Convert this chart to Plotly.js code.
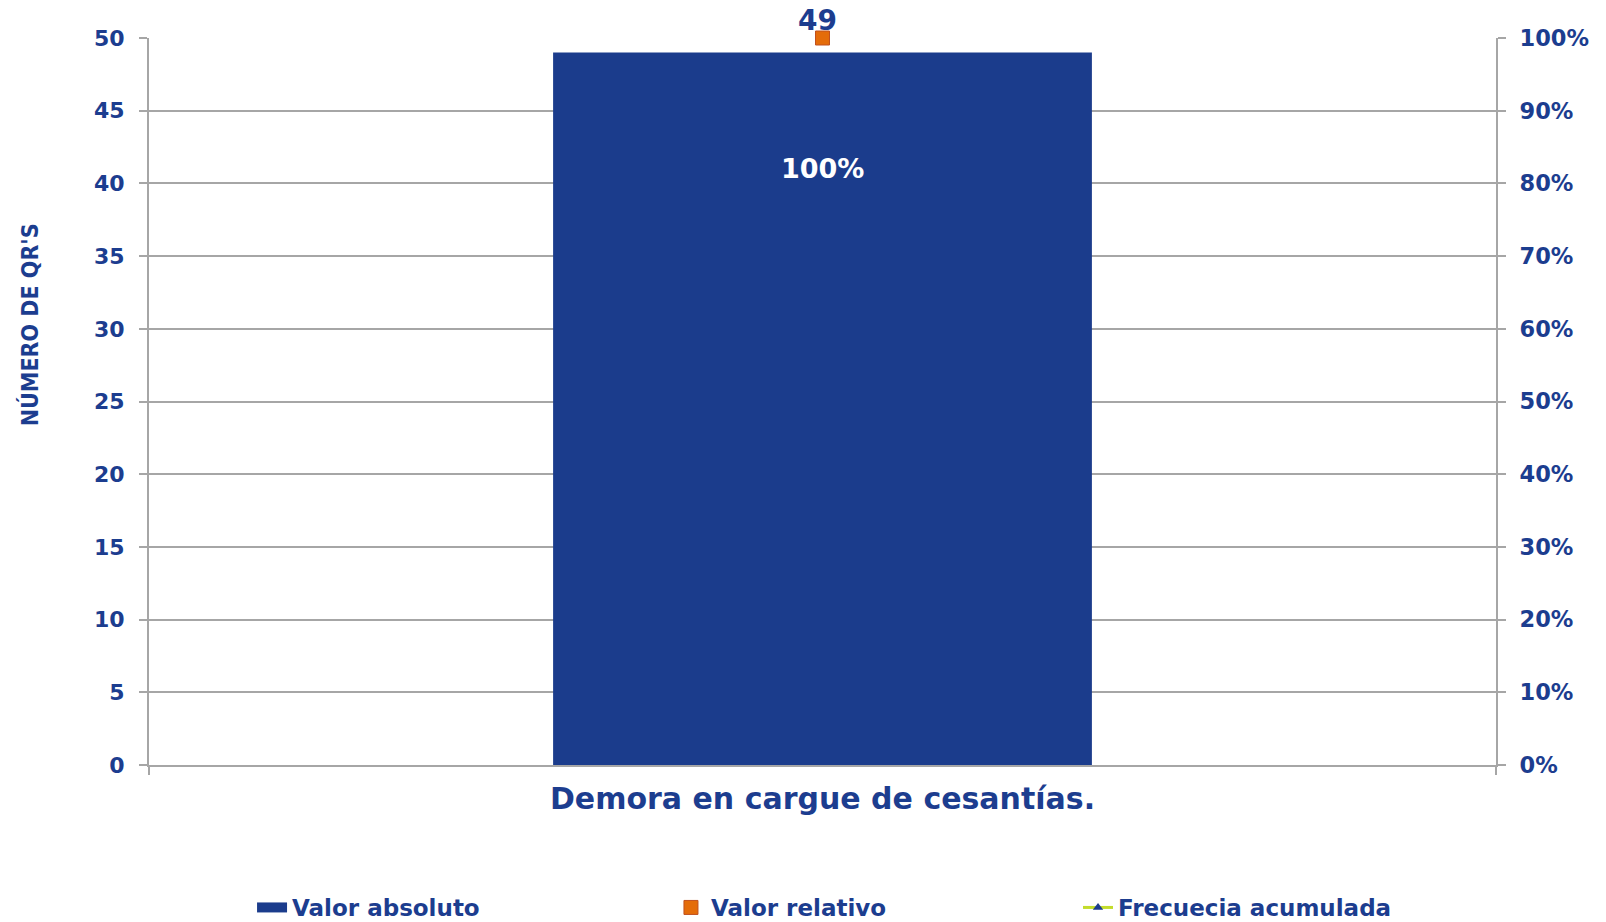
<!DOCTYPE html>
<html>
<head>
<meta charset="utf-8">
<script src="https://cdn.plot.ly/plotly-3.0.1.min.js"></script>
<style>
  html, body { margin: 0; padding: 0; background: #ffffff; }
  #chart { width: 1606px; height: 922px; }
</style>
</head>
<body>
<div id="chart"></div>
<script>
// ---- Data ----
const categories = ['Demora en cargue de cesantías.'];
const absoluteValues = [49];        // Valor absoluto (número de QR's)
const relativeValues = [1.0];       // Valor relativo
const cumulativeValues = [1.0];     // Frecuecia acumulada
const seriesNames = ['Valor absoluto', 'Valor relativo', 'Frecuecia acumulada'];
const yTitle = "NÚMERO DE QR'S";

// ---- Styles ----
const NAVY = '#1c3d8f';
const BAR = '#1b3c8c';
const ORANGE = '#e46c0a';
const LIME = '#c3dc2b';
const GRID = '#a6a6a6';
const FONT = 'DejaVu Sans, Verdana, sans-serif';

const traces = [
  {
    type: 'bar',
    x: categories,
    y: absoluteValues,
    name: seriesNames[0],
    marker: { color: BAR },
    showlegend: false,
    hoverinfo: 'x+y'
  },
  // legend swatch for the bar series (wide rectangle like the original)
  {
    type: 'scatter',
    mode: 'lines',
    x: [null],
    y: [null],
    name: seriesNames[0],
    line: { color: BAR, width: 11 },
    legend: 'legend',
    showlegend: true,
    hoverinfo: 'skip'
  },
  {
    type: 'scatter',
    mode: 'lines+markers',
    x: categories,
    y: cumulativeValues,
    yaxis: 'y2',
    name: seriesNames[2],
    line: { color: LIME, width: 3 },
    marker: { symbol: 'triangle-up', size: 9, color: NAVY },
    cliponaxis: false,
    legend: 'legend3'
  },
  {
    type: 'scatter',
    mode: 'markers',
    x: categories,
    y: relativeValues,
    yaxis: 'y2',
    name: seriesNames[1],
    marker: { symbol: 'square', size: 14, color: ORANGE, line: { color: '#c0501e', width: 1 } },
    cliponaxis: false,
    legend: 'legend2'
  }
];

const tickFont = { family: FONT, size: 22, color: NAVY, weight: 700 };
const tickFontRight = { family: FONT, size: 22.5, color: NAVY, weight: 700 };
const legendFont = { family: FONT, size: 23, color: NAVY, weight: 700 };

const annotations = [
  // absolute value label above the bar
  {
    x: categories[0], y: 50, xref: 'x', yref: 'y',
    text: String(absoluteValues[0]),
    showarrow: false, yanchor: 'bottom', yshift: -1, xshift: -5,
    font: { family: FONT, size: 28, color: NAVY, weight: 700 }
  },
  // relative value label inside the bar
  {
    x: categories[0], y: absoluteValues[0], xref: 'x', yref: 'y',
    text: Math.round(relativeValues[0] * 100) + '%',
    showarrow: false, yanchor: 'middle', yshift: -116,
    font: { family: FONT, size: 27, color: '#ffffff', weight: 700 }
  },
  // y axis title
  {
    xref: 'paper', yref: 'paper', x: -0.089, y: 0.605,
    text: yTitle, textangle: -90, showarrow: false,
    xanchor: 'center', yanchor: 'middle',
    font: { family: 'Liberation Sans Narrow, DejaVu Sans Condensed, Arial Narrow, sans-serif', size: 23, color: NAVY, weight: 700 }
  }
];

const layout = {
  width: 1606,
  height: 922,
  margin: { l: 149, r: 110, t: 38, b: 157, pad: 0, autoexpand: false },
  paper_bgcolor: '#ffffff',
  plot_bgcolor: '#ffffff',
  font: { family: FONT, color: NAVY },
  bargap: 0.6,
  xaxis: {
    type: 'category',
    range: [-0.5, 0.5],
    showline: true, linecolor: GRID, linewidth: 2,
    ticks: 'outside', tickson: 'boundaries', ticklen: 8, tickcolor: GRID, tickwidth: 2,
    showgrid: false, zeroline: false,
    tickfont: { family: FONT, size: 30, color: NAVY, weight: 700 },
    ticklabelstandoff: 6,
    automargin: false,
    fixedrange: true
  },
  yaxis: {
    range: [0, 50], dtick: 5, tick0: 0,
    showline: true, linecolor: GRID, linewidth: 2,
    ticks: 'outside', ticklen: 8, tickcolor: GRID, tickwidth: 2,
    showgrid: true, gridcolor: GRID, gridwidth: 2,
    zeroline: false,
    tickfont: tickFont,
    ticklabelstandoff: 10,
    automargin: false,
    fixedrange: true
  },
  yaxis2: {
    overlaying: 'y', side: 'right',
    range: [0, 1], dtick: 0.1, tick0: 0, tickformat: '.0%',
    showline: true, linecolor: GRID, linewidth: 2,
    ticks: 'outside', ticklen: 8, tickcolor: GRID, tickwidth: 2,
    showgrid: false, zeroline: false,
    tickfont: tickFontRight,
    ticklabelstandoff: 9,
    automargin: false,
    fixedrange: true
  },
  legend: {
    orientation: 'h', x: 0.0765, y: -0.196, xanchor: 'left', yanchor: 'middle',
    font: legendFont, bgcolor: 'rgba(0,0,0,0)', borderwidth: 0
  },
  legend2: {
    orientation: 'h', x: 0.3875, y: -0.196, xanchor: 'left', yanchor: 'middle',
    font: legendFont, bgcolor: 'rgba(0,0,0,0)', borderwidth: 0
  },
  legend3: {
    orientation: 'h', x: 0.6897, y: -0.196, xanchor: 'left', yanchor: 'middle',
    font: legendFont, bgcolor: 'rgba(0,0,0,0)', borderwidth: 0
  },
  annotations: annotations,
  showlegend: true
};

Plotly.newPlot('chart', traces, layout, { displayModeBar: false, staticPlot: true });
</script>
</body>
</html>
